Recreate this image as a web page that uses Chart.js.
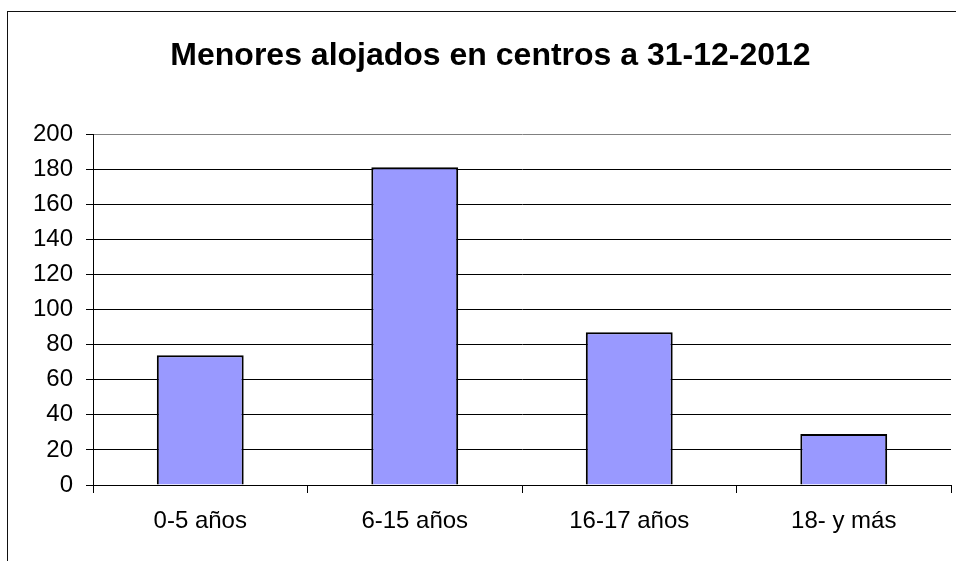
<!DOCTYPE html>
<html>
<head>
    <meta charset="utf-8">
    <title>Menores alojados en centros a 31-12-2012</title>
    <script src="https://cdn.jsdelivr.net/npm/chart.js"></script>
    <style>
        html, body { margin: 0; padding: 0; background: #fff; overflow: hidden; }
        #frame {
            position: absolute; left: 7px; top: 11px;
            width: 1000px; height: 600px;
            border: 1.5px solid #111;
        }
        #wrap { position: absolute; left: 0; top: 0; width: 956px; height: 561px; }
    </style>
</head>
<body>
    <div id="frame"></div>
    <div id="wrap"><canvas id="chart" width="956" height="561"></canvas></div>

    <script>
        // datos
        const categorias = ['0-5 años', '6-15 años', '16-17 años', '18- y más'];
        const menores = [74, 181, 87, 29];
        const ticksY = [0, 20, 40, 60, 80, 100, 120, 140, 160, 180, 200];

        const fuente = "'Liberation Sans', Arial, sans-serif";

        const ctx = document.getElementById('chart').getContext('2d');
        new Chart(ctx, {
            type: 'bar',
            data: {
                labels: categorias,
                datasets: [{
                    data: menores,
                    backgroundColor: '#9999FF',
                    borderColor: '#000',
                    borderWidth: 2,
                    barPercentage: 1,
                    categoryPercentage: 0.405
                }]
            },
            options: {
                responsive: false,
                animation: false,
                layout: { padding: { left: 30, right: 5, top: 0, bottom: 0 } },
                plugins: {
                    legend: { display: false },
                    tooltip: { enabled: false },
                    title: {
                        display: true,
                        text: 'Menores alojados en centros a 31-12-2012',
                        color: '#000',
                        font: { family: fuente, size: 32, weight: 'bold' },
                        padding: { top: 37, bottom: 58.6 }
                    }
                },
                scales: {
                    x: {
                        offset: true,
                        afterFit: s => { s.height = 76; },
                        grid: {
                            offset: true,
                            drawOnChartArea: true,
                            color: c => c.index === categorias.length ? '#808080' : 'rgba(0,0,0,0)',
                            tickColor: '#000',
                            tickLength: 8,
                            lineWidth: 1
                        },
                        border: { color: '#000', width: 1 },
                        ticks: {
                            color: '#000',
                            padding: 14,
                            font: { family: fuente, size: 24 }
                        }
                    },
                    y: {
                        min: 0,
                        max: 200,
                        afterFit: s => { s.width = 63; },
                        afterBuildTicks: s => { s.ticks = ticksY.map(v => ({ value: v })); },
                        grid: {
                            color: c => c.tick && c.tick.value === 200 ? '#808080' : '#000',
                            tickColor: '#000',
                            tickLength: 7,
                            lineWidth: 1
                        },
                        border: { color: '#000', width: 1 },
                        ticks: {
                            color: '#000',
                            padding: 13,
                            font: { family: fuente, size: 24 }
                        }
                    }
                }
            }
        });
    </script>
</body>
</html>
